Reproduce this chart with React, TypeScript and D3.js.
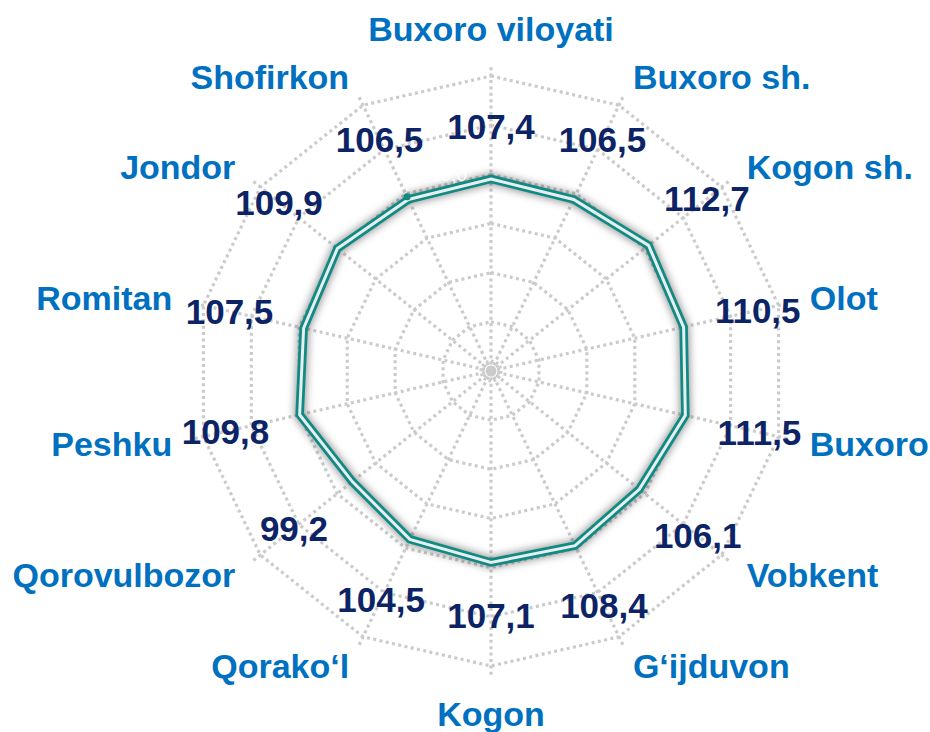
import { useEffect, useRef } from "react";
import * as d3 from "d3";

const categories = [
  "Buxoro viloyati",
  "Buxoro sh.",
  "Kogon sh.",
  "Olot",
  "Buxoro",
  "Vobkent",
  "G‘ijduvon",
  "Kogon",
  "Qorako‘l",
  "Qorovulbozor",
  "Peshku",
  "Romitan",
  "Jondor",
  "Shofirkon",
];

const values = [107.4, 106.5, 112.7, 110.5, 111.5, 106.1, 108.4, 107.1, 104.5, 99.2, 109.8, 107.5, 109.9, 106.5];

const axisMax = 165;
const axisStep = 27.5;
// only the tick label that shows (white text over the line's shadow)
const shownTickLabels = [110];
const markedCategory = "Shofirkon";

const width = 930;
const height = 732;

const fmt = (v: number) => d3.format(".1f")(v).replace(".", ",");

export default function App() {
  const svgRef = useRef<SVGSVGElement | null>(null);

  useEffect(() => {
    if (!svgRef.current) return;
    const svg = d3.select(svgRef.current);
    svg.selectAll("*").remove();

    const cx = 491;
    const cy = 371;
    const outer = 295;
    const spokeLen = 306;
    const r = d3.scaleLinear().domain([0, axisMax]).range([0, outer]);
    const n = categories.length;
    const angle = d3
      .scaleLinear()
      .domain([0, n])
      .range([0, 2 * Math.PI]);
    const pt = (i: number, rad: number): [number, number] => [
      Math.sin(angle(i)) * rad,
      -Math.cos(angle(i)) * rad,
    ];

    const defs = svg.append("defs");
    defs
      .append("filter")
      .attr("id", "glow")
      .attr("x", "-20%")
      .attr("y", "-20%")
      .attr("width", "140%")
      .attr("height", "140%")
      .append("feGaussianBlur")
      .attr("stdDeviation", 4.5);

    const root = svg.append("g").attr("transform", `translate(${cx},${cy})`);

    const gridColor = "#cbcbcb";
    const dash = "3 3.4";
    const ticks = d3.range(axisStep, axisMax + 0.001, axisStep);

    // rings
    const ringLine = d3
      .lineRadial<number>()
      .angle((_, i) => angle(i))
      .curve(d3.curveLinearClosed);
    root
      .append("g")
      .selectAll("path")
      .data(ticks)
      .join("path")
      .attr("d", (t) => ringLine.radius(r(t))(d3.range(n)) as string)
      .attr("fill", "none")
      .attr("stroke", gridColor)
      .attr("stroke-width", 3.2)
      .attr("stroke-dasharray", dash);

    // spokes
    root
      .append("g")
      .selectAll("line")
      .data(d3.range(n))
      .join("line")
      .attr("x1", 0)
      .attr("y1", 0)
      .attr("x2", (i) => pt(i, spokeLen)[0])
      .attr("y2", (i) => pt(i, spokeLen)[1])
      .attr("stroke", gridColor)
      .attr("stroke-width", 3.2)
      .attr("stroke-dasharray", dash);

    root
      .append("circle")
      .attr("r", 10)
      .attr("fill", "none")
      .attr("stroke", gridColor)
      .attr("stroke-width", 3)
      .attr("stroke-dasharray", "2.6 2.6");
    root.append("circle").attr("r", 5.5).attr("fill", gridColor);

    // data line
    const dataLine = d3
      .lineRadial<number>()
      .angle((_, i) => angle(i))
      .radius((v) => r(v))
      .curve(d3.curveLinearClosed);
    const d = dataLine(values) as string;

    root
      .append("path")
      .attr("d", d)
      .attr("fill", "none")
      .attr("stroke", "#000")
      .attr("stroke-opacity", 0.45)
      .attr("stroke-width", 10)
      .attr("filter", "url(#glow)");

    root
      .append("g")
      .selectAll("text")
      .data(shownTickLabels)
      .join("text")
      .attr("x", -24)
      .attr("y", (t) => -r(t))
      .attr("dy", "0.36em")
      .attr("text-anchor", "end")
      .attr("font-family", "Liberation Sans, Arial, sans-serif")
      .attr("font-size", 19)
      .attr("fill", "#ffffff")
      .text((t) => fmt(t));

    root
      .append("path")
      .attr("d", d)
      .attr("fill", "none")
      .attr("stroke", "#0f8a84")
      .attr("stroke-width", 8.5)
      .attr("stroke-linejoin", "miter");
    root
      .append("path")
      .attr("d", d)
      .attr("fill", "none")
      .attr("stroke", "#e8eeee")
      .attr("stroke-width", 3)
      .attr("stroke-linejoin", "miter");

    const mi = categories.indexOf(markedCategory);
    root
      .append("circle")
      .attr("cx", pt(mi, r(values[mi]) + 3)[0])
      .attr("cy", pt(mi, r(values[mi]) + 3)[1])
      .attr("r", 3.5)
      .attr("fill", "#0f8a84");

    // value labels
    const hw = 34;
    const hh = 13;
    const gap = 40;
    root
      .append("g")
      .selectAll("text")
      .data(values)
      .join("text")
      .each(function (v, i) {
        const a = angle(i);
        const ext = Math.abs(Math.sin(a)) * hw + Math.abs(Math.cos(a)) * hh;
        const [x, y] = pt(i, r(v) + gap + ext);
        d3.select(this).attr("x", x).attr("y", y);
      })
      .attr("dy", "0.36em")
      .attr("text-anchor", "middle")
      .attr("font-family", "Liberation Sans, Arial, sans-serif")
      .attr("font-weight", 700)
      .attr("font-size", 35)
      .attr("fill", "#0c2466")
      .text((v) => fmt(v));

    // category labels
    const labelR = 327;
    root
      .append("g")
      .selectAll("text")
      .data(categories)
      .join("text")
      .each(function (c, i) {
        const [x, y] = pt(i, labelR);
        const s = Math.sin(angle(i));
        const co = Math.cos(angle(i));
        const anchor = Math.abs(s) < 0.01 ? "middle" : s > 0 ? "start" : "end";
        let dy = "0.36em";
        if (Math.abs(s) < 0.01) dy = co > 0 ? "-0.1em" : "0.82em";
        d3.select(this).attr("x", x).attr("y", y).attr("text-anchor", anchor).attr("dy", dy);
      })
      .attr("font-family", "Liberation Sans, Arial, sans-serif")
      .attr("font-weight", 700)
      .attr("font-size", 34)
      .attr("fill", "#0070c0")
      .text((c) => c);
  }, []);

  return (
    <svg
      ref={svgRef}
      width={width}
      height={height}
      viewBox={`0 0 ${width} ${height}`}
      style={{ position: "absolute", left: 0, top: 0, background: "#ffffff" }}
    />
  );
}
